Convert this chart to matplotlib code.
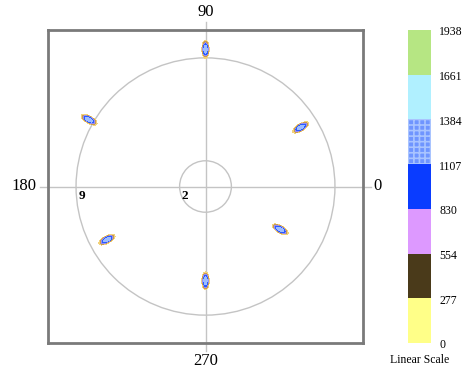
import numpy as np
import matplotlib
matplotlib.use("Agg")
import matplotlib.pyplot as plt
from matplotlib.patches import Rectangle, Circle

# ---- data ----
spot_angles = [90, 150, 32, 208.5, 330, 270]      # degrees
spot_radii = [96, 93.5, 78, 78, 60, 66]            # same units as rings
spot_peaks = [1240, 1230, 1230, 1230, 1230, 1240]
ring_radii = [18, 90]
ring_labels = ["2", "9"]
axis_labels = ["0", "90", "180", "270"]
scale_levels = [0, 277, 554, 830, 1107, 1384, 1661, 1938]
scale_colors = ["#ffff88", "#4a3a1a", "#dd99ff", "#0a3cff", "#6f95ff", "#b0f0ff", "#b6e683"]
scale_title = "Linear Scale"

plt.rcParams['font.family'] = ['Liberation Serif', 'DejaVu Serif']
plt.rcParams['hatch.linewidth'] = 1.2

fig = plt.figure(figsize=(4.69, 3.71), dpi=100)
ax = fig.add_axes([48/469, 28/371, 315/469, 313/371])
L = 109.5
ax.set_xlim(-L, L)
ax.set_ylim(-L, L)
ax.set_xticks([]); ax.set_yticks([])
for s in ax.spines.values():
    s.set_color("#7a7a7a"); s.set_linewidth(2.0)

# crosshair
ext = 115
ax.plot([-ext, ext], [0, 0], color="#c4c4c4", lw=1.0, clip_on=False, zorder=1)
ax.plot([0, 0], [-ext, ext], color="#c4c4c4", lw=1.0, clip_on=False, zorder=1)

# rings
for r, lab in zip(ring_radii, ring_labels):
    ax.add_patch(Circle((0, 0), r, fill=False, ec="#c4c4c4", lw=1.0, zorder=1))
    ax.text(-r + 1.5, -2.5, lab, fontsize=9.5, fontweight="bold", ha="left", va="top", zorder=3)

# spots: intensity field from spot list
g = np.linspace(-L, L, 900)
X, Y = np.meshgrid(g, g)
Z = np.zeros_like(X)
sr, st = 4.0, 1.6
for a, r, p in zip(spot_angles, spot_radii, spot_peaks):
    th = np.deg2rad(a)
    cx, cy = r*np.cos(th), r*np.sin(th)
    u = (X-cx)*np.cos(th) + (Y-cy)*np.sin(th)
    v = -(X-cx)*np.sin(th) + (Y-cy)*np.cos(th)
    d2 = (u/sr)**2 + (v/st)**2
    Z += p*np.exp(-0.5*d2**2)
lev = [60] + scale_levels[1:6]
fill_cols = ["#f2d27a", "#c79a55", "#9a8cf0", "#2a5cff", "#9cbcff"]
ax.contourf(X, Y, Z, levels=lev, colors=fill_cols, zorder=2)

# axis direction labels
ax.text(L + 7, 0, axis_labels[0], fontsize=12, ha="left", va="center")
ax.text(0, L + 7, axis_labels[1], fontsize=12, ha="center", va="bottom")
ax.text(-L - 8, 0, axis_labels[2], fontsize=12, ha="right", va="center")
ax.text(0, -L - 7, axis_labels[3], fontsize=12, ha="center", va="top")

# colour scale
cax = fig.add_axes([408/469, 28/371, 23/469, 313/371])
n = len(scale_colors)
cax.set_xlim(0, 1)
cax.set_ylim(scale_levels[0], scale_levels[-1])
for i in range(n):
    if i == 4:
        kw = dict(hatch="+++", edgecolor="#a9c4ff", linewidth=0)
    else:
        kw = dict(edgecolor="none")
    cax.add_patch(Rectangle((0, scale_levels[i]), 1, scale_levels[i+1]-scale_levels[i],
                            facecolor=scale_colors[i], **kw))
cax.axis("off")
for v in scale_levels:
    cax.text(1.35, v - 15, str(v), fontsize=8.5, ha="left", va="center", transform=cax.transData)
cax.text(0.5, -0.035, scale_title, fontsize=8.5, ha="center", va="top", transform=cax.transAxes)

fig.savefig("out.png", dpi=100)
